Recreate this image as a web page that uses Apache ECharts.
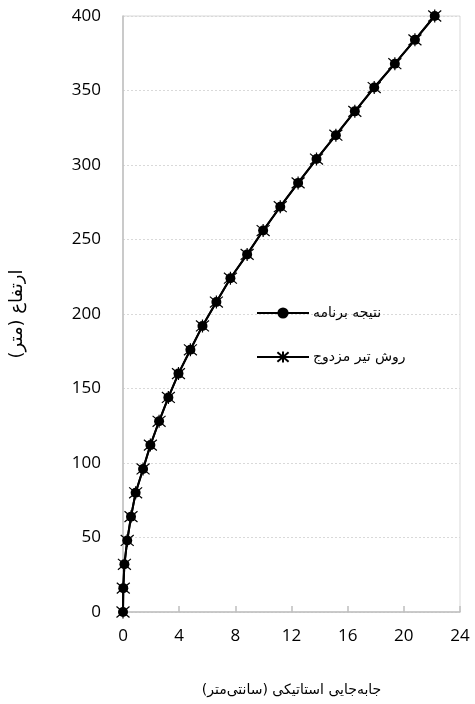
<!DOCTYPE html>
<html>
<head>
<meta charset="utf-8">
<script src="https://cdn.jsdelivr.net/npm/echarts@6/dist/echarts.min.js"></script>
<style>
html,body{margin:0;padding:0;background:#fff;}
#c{width:475px;height:704px;}
</style>
</head>
<body>
<div id="c"></div>
<script>
const heights = [0,16,32,48,64,80,96,112,128,144,160,176,192,208,224,240,256,272,288,304,320,336,352,368,384,400];
const programDisp = [0,0.02,0.1,0.3,0.57,0.9,1.43,1.95,2.57,3.23,3.95,4.8,5.66,6.65,7.65,8.84,9.98,11.2,12.47,13.78,15.16,16.51,17.89,19.36,20.79,22.2];
const conjugateDisp = [0,0.02,0.1,0.3,0.57,0.9,1.43,1.95,2.57,3.23,3.95,4.8,5.66,6.65,7.65,8.84,9.98,11.2,12.47,13.78,15.16,16.51,17.89,19.36,20.79,22.2];
const xTicks = [0,4,8,12,16,20,24];
const yTicks = [0,50,100,150,200,250,300,350,400];
const seriesNames = ['نتیجه برنامه','روش تیر مزدوج'];
const xTitle = 'جابه\u200cجایی استاتیکی (سانتی\u200cمتر)\u200f';
const yTitle = 'ارتفاع (متر)\u200f';

const pairs = (xs) => xs.map((v,i)=>[v, heights[i]]);
const starPath = 'path://M0,-6L0,6M-5,-5L5,5M-5,5L5,-5';

const chart = echarts.init(document.getElementById('c'), null, {renderer:'canvas'});
chart.setOption({
  animation:false,
  backgroundColor:'#fff',
  grid:{left:123,right:15,top:16,bottom:92,show:true,borderColor:'#d9d9d9',borderWidth:1},
  xAxis:{
    type:'value',min:xTicks[0],max:xTicks[xTicks.length-1],interval:4,
    name:xTitle,nameLocation:'middle',nameGap:71,
    nameTextStyle:{fontFamily:'DejaVu Sans',fontSize:14,color:'#000'},
    axisLine:{show:true,lineStyle:{color:'#bfbfbf',width:1.5}},
    axisTick:{show:true,inside:true,length:6,lineStyle:{color:'#bfbfbf',width:1.5}},
    axisLabel:{fontFamily:'Open Sans',fontSize:17,color:'#000',margin:16},
    splitLine:{show:false}
  },
  yAxis:{
    type:'value',min:yTicks[0],max:yTicks[yTicks.length-1],interval:50,
    name:yTitle,nameLocation:'middle',nameGap:97,nameRotate:90,
    nameTextStyle:{fontFamily:'DejaVu Sans',fontSize:18,color:'#000'},
    axisLine:{show:true,lineStyle:{color:'#bfbfbf',width:1.5}},
    axisTick:{show:false},
    axisLabel:{fontFamily:'Open Sans',fontSize:17,color:'#000',margin:22},
    splitLine:{show:true,lineStyle:{color:'#d9d9d9',type:[2,2],width:1}}
  },
  legend:{
    orient:'vertical',left:256,top:306,padding:0,itemGap:30,itemWidth:52,itemHeight:14,
    textStyle:{fontFamily:'DejaVu Sans',fontSize:14,color:'#000',padding:[0,0,0,-1]},
    data:[seriesNames[0],seriesNames[1]]
  },
  series:[
    {
      name:seriesNames[1],type:'line',data:pairs(conjugateDisp),
      symbol:starPath,symbolSize:13,showSymbol:true,
      lineStyle:{color:'#000',width:2},
      itemStyle:{color:'#000',borderColor:'#000',borderWidth:1.2},
      z:2
    },
    {
      name:seriesNames[0],type:'line',data:pairs(programDisp),
      symbol:'circle',symbolSize:10,showSymbol:true,
      lineStyle:{color:'#000',width:2},
      itemStyle:{color:'#000',borderColor:'#000',borderWidth:0},
      z:3
    }
  ]
});
</script>
</body>
</html>
